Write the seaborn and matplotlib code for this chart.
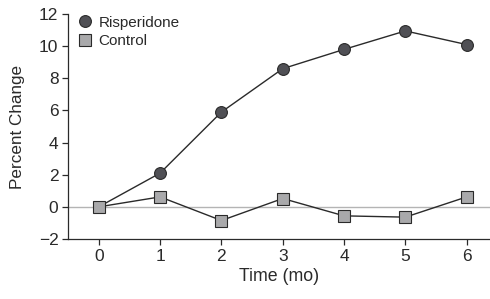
import seaborn as sns
import matplotlib.pyplot as plt
import pandas as pd

months = [0, 1, 2, 3, 4, 5, 6]
risperidone = [0.0, 2.1, 5.9, 8.6, 9.8, 10.95, 10.1]
control = [0.0, 0.62, -0.85, 0.52, -0.56, -0.64, 0.62]

df = pd.DataFrame({
    'Time': months * 2,
    'Change': risperidone + control,
    'Group': ['Risperidone'] * 7 + ['Control'] * 7,
})

sns.set_style('ticks')
plt.rcParams['font.family'] = ['Liberation Sans', 'DejaVu Sans']

ink = '#2a2a2a'

fig = plt.figure(figsize=(4.9, 2.99), dpi=100)
ax = fig.add_axes([0.139, 0.2007, 0.861, 0.7523])

ax.axhline(0, color='#b4b4b4', lw=1.0, zorder=0)

sns.lineplot(data=df[df.Group == 'Risperidone'], x='Time', y='Change',
             color=ink, lw=1.0, marker='o', markersize=8.5,
             markerfacecolor='#505055', markeredgecolor=ink,
             markeredgewidth=0.8, label='Risperidone', ax=ax)
sns.lineplot(data=df[df.Group == 'Control'], x='Time', y='Change',
             color=ink, lw=1.0, marker='s', markersize=8.5,
             markerfacecolor='#a9a9ab', markeredgecolor=ink,
             markeredgewidth=0.8, label='Control', ax=ax)

ax.set_xlim(-0.5, 6.38)
ax.set_ylim(-2, 12)
ax.set_xticks(months)
ax.set_yticks([-2, 0, 2, 4, 6, 8, 10, 12])
ax.set_yticklabels(['\u22122', '0', '2', '4', '6', '8', '10', '12'])
ax.tick_params(labelsize=12.5, length=4, width=0.9, color=ink, labelcolor=ink, pad=3)
for s in ['top', 'right']:
    ax.spines[s].set_visible(False)
for s in ['left', 'bottom']:
    ax.spines[s].set_linewidth(0.9)
    ax.spines[s].set_color(ink)

ax.set_xlabel('Time (mo)', fontsize=12.8, color=ink, labelpad=3)
ax.set_ylabel('Percent Change', fontsize=12.3, color=ink, labelpad=10)

leg = ax.legend(loc='upper left', bbox_to_anchor=(0.0, 1.04), frameon=False,
                fontsize=11, handlelength=0.8, handletextpad=0.5,
                labelspacing=0.3, borderaxespad=0.3)
for t in leg.get_texts():
    t.set_color(ink)
for h in leg.legend_handles:
    h.set_linestyle('none')

fig.savefig('out.png', dpi=100)
